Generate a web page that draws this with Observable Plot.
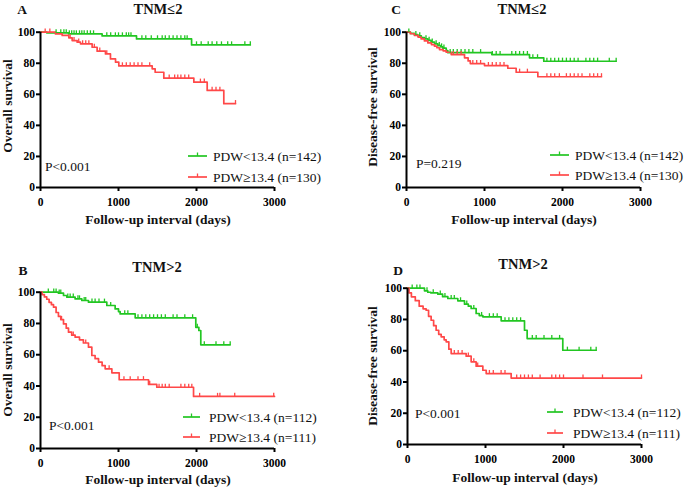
<!DOCTYPE html>
<html><head><meta charset="utf-8">
<script src="https://cdn.jsdelivr.net/npm/d3@7"></script>
<script src="https://cdn.jsdelivr.net/npm/@observablehq/plot@0.6"></script>
<style>
body{margin:0;background:#fff;}
#root{position:relative;width:685px;height:487px;overflow:hidden;}
#root svg{position:absolute;overflow:visible;}
</style></head><body><div id="root"></div>
<script>
// ---- labels ----
const xTicks = [0, 1000, 2000, 3000];
const yTicks = [0, 20, 40, 60, 80, 100];
const groups = ["PDW<13.4", "PDW≥13.4"];
const groupColors = ["#22c622", "#ff4848"];
const panelLetters = ["A", "C", "B", "D"];
const panelTitles = ["TNM≤2", "TNM≤2", "TNM>2", "TNM>2"];
const yLabels = ["Overall survival", "Disease-free survival", "Overall survival", "Disease-free survival"];
const xLabel = "Follow-up interval (days)";
const pValues = ["P<0.001", "P=0.219", "P<0.001", "P<0.001"];
const nLow = [142, 142, 112, 112];
const nHigh = [130, 130, 111, 111];

// ---- Panel A: overall survival, TNM<=2 ----
const aLowT = [0, 80, 360, 790, 1231, 1937, 2690];
const aLowS = [100, 99.6, 98.9, 97.6, 95.7, 91.8, 91.8];
const aLowC = [200, 260, 300, 330, 370, 400, 430, 460, 500, 530, 560, 600, 640, 680, 850, 900, 960, 1000, 1050, 1100, 1130, 1160, 1300, 1350, 1420, 1500, 1560, 1600, 1650, 1700, 1750, 1800, 1850, 1880, 2000, 2060, 2150, 2200, 2260, 2320, 2400, 2450, 2620, 2690];
const aHighT = [0, 192, 278, 363, 406, 470, 513, 662, 726, 833, 897, 962, 1004, 1432, 1470, 1581, 1966, 2137, 2350, 2500];
const aHighS = [100, 98.9, 97.9, 96.4, 94.6, 93.6, 92.5, 90.3, 87.8, 86, 82.8, 80.7, 78.3, 76.4, 74.2, 70.4, 67.8, 62.5, 54, 54];
const aHighC = [60, 120, 380, 430, 490, 540, 580, 620, 690, 760, 850, 1050, 1100, 1150, 1200, 1250, 1300, 1400, 1650, 1720, 1760, 1800, 1850, 1900, 2050, 2100, 2200, 2250, 2300, 2500];

// ---- Panel C: disease-free survival, TNM<=2 ----
const cLowT = [0, 50, 100, 145, 190, 231, 275, 316, 360, 402, 440, 466, 509, 530, 1094, 1577, 1760, 2688];
const cLowS = [100, 99.2, 98.4, 97.6, 96.6, 95.7, 94.7, 93.6, 92.5, 91.4, 90.5, 89.7, 88.2, 86.8, 85.6, 83.5, 81.3, 81.3];
const cLowC = [30, 120, 170, 250, 290, 330, 380, 420, 450, 480, 560, 600, 650, 700, 750, 800, 850, 950, 1100, 1150, 1200, 1350, 1400, 1450, 1500, 1550, 1620, 1680, 1800, 1850, 1900, 1950, 2000, 2050, 2100, 2150, 2200, 2300, 2350, 2400, 2450, 2600, 2688];
const cHighT = [0, 50, 103, 150, 188, 230, 274, 320, 359, 390, 423, 470, 509, 573, 744, 790, 818, 1000, 1299, 1406, 1684, 2500];
const cHighS = [100, 99, 97.9, 96.8, 95.7, 94.4, 93.1, 92, 91, 90, 88.8, 88, 87.1, 85.6, 83.5, 81.5, 79.8, 78.5, 76.8, 74.2, 71.3, 71.3];
const cHighC = [600, 650, 700, 850, 900, 950, 1050, 1100, 1150, 1200, 1250, 1450, 1550, 1800, 1850, 1900, 1960, 2050, 2100, 2150, 2200, 2250, 2350, 2400, 2450, 2500];

// ---- Panel B: overall survival, TNM>2 ----
const bLowT = [0, 230, 295, 338, 444, 530, 615, 850, 957, 1000, 1021, 1214, 1991, 2030, 2055, 2432];
const bLowS = [100, 99.4, 97.9, 96.8, 95.7, 94.7, 93.6, 91.5, 89.3, 87.6, 86.1, 83.6, 77.5, 75.5, 66.3, 66.3];
const bLowC = [100, 170, 200, 240, 260, 350, 380, 420, 480, 500, 560, 580, 660, 700, 750, 820, 900, 1080, 1120, 1250, 1300, 1350, 1400, 1450, 1500, 1550, 1600, 1700, 1750, 1850, 1950, 2010, 2100, 2250, 2350, 2432];
const bHighT = [0, 20, 50, 80, 110, 140, 167, 200, 230, 260, 295, 330, 359, 400, 444, 500, 550, 615, 658, 700, 744, 790, 829, 915, 1009, 1385, 1491, 1962, 3000];
const bHighS = [100, 98.5, 97, 95.5, 93.5, 92, 90.4, 87, 84.5, 82.5, 79.7, 77, 74.4, 72.5, 71.2, 69.5, 67.5, 64.8, 59.5, 57.5, 55.2, 53, 51, 48.4, 44, 41, 39.2, 33.3, 33.3];
const bHighC = [270, 420, 580, 880, 1070, 1150, 1250, 1320, 1400, 1520, 1560, 1600, 1650, 1800, 1850, 1900, 1940, 2040, 2270, 2300, 2490, 2990];

// ---- Panel D: disease-free survival, TNM>2 ----
const dLowT = [0, 218, 260, 300, 389, 450, 517, 645, 731, 780, 816, 880, 920, 966, 1201, 1500, 1534, 1991, 2419];
const dLowS = [100, 98.3, 97.4, 97, 96.2, 94.6, 93.4, 91.9, 89.8, 88.5, 87, 83.8, 82.5, 81.7, 79.1, 73.1, 67.8, 60.3, 60.3];
const dLowC = [60, 120, 160, 250, 330, 420, 480, 560, 600, 680, 760, 850, 950, 1050, 1100, 1150, 1250, 1300, 1350, 1400, 1450, 1600, 1650, 1750, 1850, 1950, 2050, 2200, 2350, 2419];
const dHighT = [0, 20, 50, 100, 150, 200, 239, 270, 303, 335, 367, 400, 432, 470, 496, 530, 560, 752, 816, 880, 966, 1009, 1329, 3000];
const dHighS = [100, 97, 94.5, 92, 88.5, 86.8, 85.9, 82, 79.5, 76, 73.1, 70.5, 68.9, 67, 65.7, 61, 58.2, 56.5, 52.9, 50.1, 47.5, 45.4, 42.5, 42.5];
const dHighC = [600, 650, 700, 780, 850, 900, 1050, 1100, 1200, 1250, 1400, 1450, 1500, 1550, 1600, 1700, 1850, 1900, 1950, 2000, 2250, 2500, 3000];

const curves = [
  [[aLowT, aLowS, aLowC], [aHighT, aHighS, aHighC]],
  [[cLowT, cLowS, cLowC], [cHighT, cHighS, cHighC]],
  [[bLowT, bLowS, bLowC], [bHighT, bHighS, bHighC]],
  [[dLowT, dLowS, dLowC], [dHighT, dHighS, dHighC]]
];

// ---- layout (page pixels) ----
const layout = [
  {left: 0, top: 0, w: 342, h: 240, mL: 40, mR: 68, mT: 31.7, mB: 53,
   letter: [22, 9], title: [158, 9], ylab: [7, 106], xlab: [158, 219], p: [45, 166], leg: [188, 207, 213, 156, 177]},
  {left: 342, top: 0, w: 343, h: 240, mL: 64, mR: 45, mT: 31.7, mB: 53,
   letter: [396, 9], title: [522, 9], ylab: [372, 107], xlab: [524, 219], p: [416, 163], leg: [550, 569, 575, 155, 175]},
  {left: 0, top: 240, w: 342, h: 247, mL: 40, mR: 68, mT: 51.7, mB: 39,
   letter: [23, 270], title: [157, 267], ylab: [7, 370], xlab: [158, 479], p: [49, 425], leg: [183, 200, 209, 417, 437]},
  {left: 342, top: 240, w: 343, h: 247, mL: 65, mR: 44, mT: 47.7, mB: 43,
   letter: [398, 270], title: [523, 264], ylab: [372, 366], xlab: [525, 477], p: [415, 413], leg: [547, 563, 573, 412, 433]}
];

function survAt(T, S, t) {
  let v = S[0];
  for (let i = 0; i < T.length; i++) if (T[i] <= t) v = S[i];
  return v;
}
const censorSymbol = {draw(ctx, size) { const r = Math.sqrt(size / Math.PI); ctx.moveTo(0, 0); ctx.lineTo(0, -r * 2); }};
const serif = "'Liberation Serif', 'Times New Roman', serif";
const root = document.getElementById("root");

curves.forEach((pair, k) => {
  const L = layout[k];
  const lines = [], cens = [];
  pair.forEach(([T, S, C], g) => {
    T.forEach((t, i) => lines.push({t, s: S[i], g: groups[g]}));
    C.forEach(t => cens.push({t, s: survAt(T, S, t), g: groups[g]}));
  });
  const svg = Plot.plot({
    width: L.w, height: L.h,
    marginLeft: L.mL, marginRight: L.mR, marginTop: L.mT, marginBottom: L.mB,
    style: {fontFamily: serif, background: "transparent", overflow: "visible"},
    x: {domain: [0, 3000]},
    y: {domain: [0, 100]},
    color: {domain: groups, range: groupColors},
    marks: [
      Plot.line(lines, {x: "t", y: "s", z: "g", stroke: "g", curve: "step-after", strokeWidth: 1.7}),
      Plot.dot(cens, {x: "t", y: "s", stroke: "g", fill: "none", symbol: censorSymbol, r: 1.8, strokeWidth: 1.3}),
      Plot.axisX({ticks: xTicks, tickSize: 4, tickPadding: 6, strokeWidth: 2, fontSize: 11.5, fontWeight: "bold", label: null, tickFormat: d3.format("d")}),
      Plot.axisY({ticks: yTicks, tickSize: 4, tickPadding: 1.5, strokeWidth: 2, fontSize: 11.5, fontWeight: "bold", label: null}),
      Plot.ruleX([0], {strokeWidth: 2}),
      Plot.ruleY([0], {strokeWidth: 2})
    ]
  });
  svg.style.left = L.left + "px";
  svg.style.top = L.top + "px";
  root.appendChild(svg);
  const s = d3.select(svg);
  const ox = L.left, oy = L.top;
  const txt = (x, y, str, size, weight, anchor, extra) => {
    const e = s.append("text").attr("x", x - ox).attr("y", y - oy).attr("font-family", serif)
      .attr("font-size", size).attr("font-weight", weight).attr("text-anchor", anchor)
      .attr("dominant-baseline", "central").attr("fill", "#111").text(str);
    if (extra) extra(e);
    return e;
  };
  txt(L.letter[0], L.letter[1], panelLetters[k], 13.5, "bold", "middle");
  txt(L.title[0], L.title[1], panelTitles[k], 14.5, "bold", "middle");
  txt(L.xlab[0], L.xlab[1], xLabel, 13.5, "bold", "middle");
  txt(L.ylab[0], L.ylab[1], yLabels[k], 13.5, "bold", "middle",
    e => e.attr("x", 0).attr("y", 0).attr("transform", `translate(${L.ylab[0] - ox},${L.ylab[1] - oy}) rotate(-90)`));
  txt(L.p[0], L.p[1], pValues[k], 13.5, "normal", "start");
  const [x1, x2, tx, r1, r2] = L.leg;
  [[r1, 0, nLow[k]], [r2, 1, nHigh[k]]].forEach(([ry, g, n]) => {
    s.append("line").attr("x1", x1 - ox).attr("x2", x2 - ox).attr("y1", ry - oy).attr("y2", ry - oy)
      .attr("stroke", groupColors[g]).attr("stroke-width", 1.7);
    s.append("line").attr("x1", (x1 + x2) / 2 - ox).attr("x2", (x1 + x2) / 2 - ox).attr("y1", ry - oy).attr("y2", ry - oy - 3.5)
      .attr("stroke", groupColors[g]).attr("stroke-width", 1.3);
    txt(tx, ry, `${groups[g]} (n=${n})`, 13.5, "normal", "start");
  });
});
</script></body></html>
